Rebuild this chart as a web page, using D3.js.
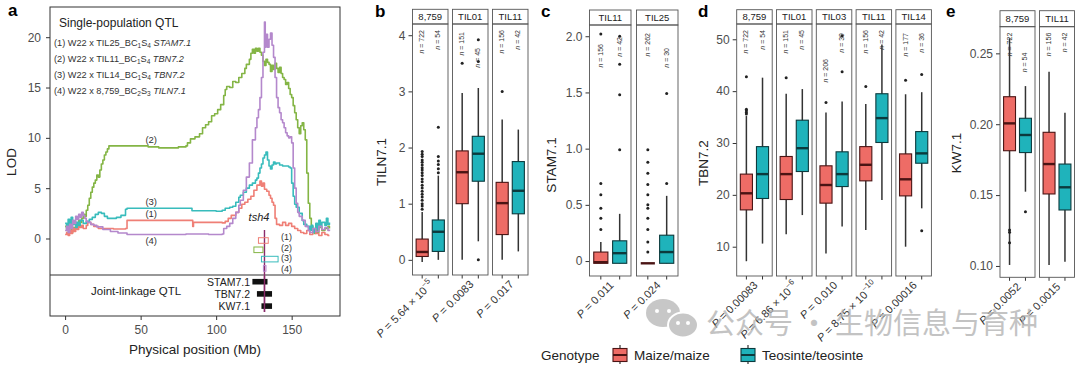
<!DOCTYPE html>
<html>
<head>
<meta charset="utf-8">
<script src="https://cdn.jsdelivr.net/npm/d3@7"></script>
<style>
body { margin: 0; background: #fff; }
svg { display: block; font-family: "Liberation Sans", Arial, sans-serif; }
</style>
</head>
<body>
<svg id="fig" width="1080" height="365"></svg>
<script>
"use strict";

// ---- panel a: LOD profiles (Mb, LOD) ----
let qtl1 = [[0,0.4],[1,0.6],[2,0.3],[3,0.8],[4,0.5],[5,1.0],[6,0.7],[7,1.2],[8,0.9],[9,1.4],[10,1.1],[11,1.3],[12,1.0],[14,1.3],[15,1.6],[17,1.4],[19,1.2],[22,1.0],[27,1.0],[32,0.95],[40,1.0],[41,1.8],[60,1.8],[84,1.8],[84.5,1.2],[85,1.6],[95,1.6],[104,1.55],[106,1.7],[108,2.0],[110,2.3],[113,2.6],[115,3.0],[117,3.4],[119,3.6],[121,3.9],[123,4.2],[125,4.8],[127,5.3],[129,5.7],[130,5.2],[131,5.5],[132,4.9],[133.5,4.7],[135,4.3],[136,4.0],[137,3.6],[138,3.3],[139,2.0],[140,1.4],[142,1.3],[144,1.6],[146,1.3],[148,1.5],[150,1.2],[152,1.0],[154,0.8],[156,0.6],[158,0.5],[160,0.8],[162,0.4],[164,0.7],[166,0.5],[168,0.3],[170,0.6],[172,0.4],[174,0.3],[175,0.3]];
let qtl2 = [[0,1.2],[1,0.8],[2,1.5],[3,1.0],[4,0.6],[5,1.1],[6,0.9],[7,1.4],[8,1.2],[9,1.8],[10,1.6],[11,2.0],[12,2.4],[13,2.2],[14,2.8],[15,3.3],[16,4.0],[17,4.6],[18,5.1],[19,5.5],[20,5.8],[21,6.3],[22,6.1],[23,6.8],[24,7.4],[25,7.8],[26,8.3],[27,8.6],[28,8.9],[29,9.2],[45,9.2],[55,9.1],[62,9.0],[75,9.1],[80,9.2],[81,9.5],[83,9.9],[86,10.1],[89,10.4],[91,11.0],[93,11.3],[95,11.6],[97,12.2],[99,12.4],[101,12.8],[103,13.3],[105,14.2],[106,14.8],[107,15.1],[109,15.0],[111,15.6],[113,15.5],[115,16.0],[117,16.4],[119,16.9],[120,17.3],[122,17.8],[123,18.4],[124,18.8],[125,18.4],[126,18.9],[127,18.6],[128,18.9],[129,18.5],[130,18.2],[131,17.6],[132,17.2],[133,17.8],[134,17.5],[135,17.3],[136,16.6],[137,17.2],[138,16.8],[139,17.4],[140,16.9],[141,16.5],[142,17.0],[143,16.4],[144,16.0],[145,15.8],[146,15.3],[147,15.5],[148,14.9],[149,14.3],[150,14.0],[151,13.2],[152,12.5],[153,11.8],[154,11.0],[155,10.4],[156,11.2],[157,11.5],[158,10.8],[159,9.8],[160,6.5],[161,3.5],[162,2.0],[163,1.2],[164,0.8],[165,0.5],[166,0.9],[167,0.6],[168,1.1],[170,0.8],[172,1.0],[174,1.2],[175,1.0]];
let qtl3 = [[0,1.5],[1,1.0],[2,1.9],[3,1.2],[4,2.1],[5,1.4],[6,1.7],[7,1.1],[8,1.6],[9,1.3],[10,1.8],[12,1.5],[14,1.7],[16,1.9],[18,2.1],[20,2.4],[22,2.6],[24,2.5],[26,2.2],[28,2.0],[32,2.0],[34,2.1],[37,2.3],[40,2.9],[41,3.0],[60,3.0],[83,3.0],[84,2.75],[100,2.7],[104,2.8],[106,3.0],[109,3.1],[111,3.2],[113,3.6],[115,4.1],[116,4.3],[118,4.6],[120,5.0],[122,5.3],[124,5.5],[126,5.8],[127,6.0],[128,6.5],[129,7.0],[130,7.4],[131,8.0],[132,8.3],[133,8.6],[134,7.8],[135,7.2],[136,6.9],[137,7.3],[138,7.6],[139,7.4],[140,7.5],[142,7.3],[144,7.2],[146,7.2],[148,7.1],[149,7.0],[150,5.5],[151,4.2],[152,3.4],[153,3.1],[155,2.5],[157,1.8],[158,1.4],[160,1.2],[162,0.8],[163,1.3],[164,0.6],[165,1.0],[166,1.5],[167,0.9],[168,1.8],[169,1.2],[170,1.6],[172,1.3],[173,2.0],[174,1.4],[175,1.6]];
let qtl4 = [[0,0.8],[1,1.2],[2,0.6],[3,1.4],[4,1.0],[5,1.8],[6,1.5],[7,2.2],[8,1.9],[9,2.4],[10,2.1],[11,2.6],[12,2.3],[13,2.0],[14,1.7],[15,1.6],[17,1.4],[19,1.3],[21,1.15],[25,0.9],[30,0.7],[35,0.55],[41,0.4],[60,0.4],[80,0.45],[95,0.4],[104,0.45],[105,1.0],[107,1.2],[109,1.5],[111,2.0],[113,2.6],[115,3.3],[116,3.8],[118,4.8],[120,6.1],[122,7.5],[124,9.8],[126,11.0],[127,12.0],[128,12.8],[129,14.0],[130,16.0],[131,18.5],[132,21.5],[132.5,19.0],[133,20.3],[134,19.0],[135,19.8],[136,20.4],[137,19.2],[138,18.0],[139,16.0],[140,14.0],[141,13.0],[142,12.5],[143,11.8],[144,11.5],[145,11.0],[146,10.5],[147,10.2],[148,10.0],[149,10.1],[150,9.5],[151,7.0],[152,5.0],[153,3.5],[154,2.6],[155,2.2],[157,1.8],[159,1.2],[161,0.8],[162,0.6],[164,1.0],[166,0.7],[168,1.2],[170,0.9],[172,1.1],[174,0.8],[175,0.9]];
let qtlNames = ["(1)", "(2)", "(3)", "(4)"];
let crossDonor = ["TIL25", "TIL11", "TIL14", "8,759"];
let crossBC = [["1", "4"], ["1", "4"], ["1", "4"], ["2", "3"]];
let crossTrait = ["STAM7.1", "TBN7.2", "TBN7.2", "TILN7.1"];
let ciStart = [128, 125, 130, 131.3];
let ciEnd = [134.5, 131, 141, 133];
let jointTraits = ["STAM7.1", "TBN7.2", "KW7.1"];
let jointStart = [124, 127, 130];
let jointEnd = [134, 137, 137];
let tsh4Pos = 132;
let posTicks = [0, 50, 100, 150];
let lodTicks = [0, 5, 10, 15, 20];

// ---- panels b-e: boxplot stats [lowWhisker, q1, median, q3, highWhisker] ----
let tilnGroups = ["8,759", "TIL01", "TIL11"];
let tilnMaize = [[-0.04, 0.06, 0.14, 0.37, 0.85], [0, 1.0, 1.56, 1.94, 2.97], [0, 0.45, 1.01, 1.38, 2.5]];
let tilnTeo = [[0, 0.15, 0.5, 0.71, 1.5], [0.33, 1.4, 1.89, 2.2, 3.06], [0.15, 0.82, 1.23, 1.75, 2.32]];
let tilnMaizeOut = [[0.9, 0.96, 1.0, 1.06, 1.12, 1.17, 1.22, 1.28, 1.33, 1.39, 1.44, 1.5, 1.55, 1.6, 1.64, 1.69, 1.74, 1.78, 1.84, 1.88, 1.93], [3.5], [3.0]];
let tilnTeoOut = [[1.55, 1.62, 1.7, 1.76, 1.84, 2.36], [0, 3.53, 3.92], []];
let tilnN = [[722, 54], [151, 45], [156, 42]];
let tilnP = ["5.64 × 10^-5", "0.0083", "0.017"];

let stamGroups = ["TIL11", "TIL25"];
let stamMaize = [[-0.02, -0.02, -0.01, 0.08, 0.17], [-0.02, -0.02, -0.02, -0.02, -0.02]];
let stamTeo = [[-0.02, -0.02, 0.07, 0.18, 0.42], [-0.02, -0.02, 0.08, 0.23, 0.58]];
let stamMaizeOut = [[0.28, 0.38, 0.47, 0.59, 0.69, 2.02], [0.08, 0.17, 0.28, 0.38, 0.47, 0.5, 0.59, 0.68, 0.78, 0.88, 0.99]];
let stamTeoOut = [[0.99, 1.48, 1.75, 2.0], [0.69, 1.49]];
let stamN = [[156, 42], [262, 30]];
let stamP = ["0.011", "0.024"];

let tbnGroups = ["8,759", "TIL01", "TIL03", "TIL11", "TIL14"];
let tbnMaize = [[7.2, 17.1, 20.3, 24.0, 35.2], [12.4, 19.1, 24.0, 27.4, 39.5], [8.7, 18.4, 21.9, 25.6, 35.9], [13.2, 22.7, 25.8, 29.3, 37.5], [10.0, 19.8, 23.0, 27.9, 39.4]];
let tbnTeo = [[10.6, 19.3, 24.0, 29.3, 42.6], [16.1, 24.5, 29.0, 34.4, 40.4], [13.9, 21.6, 24.0, 28.3, 38.0], [19.0, 30.1, 34.8, 39.5, 49.0], [17.4, 26.1, 28.0, 32.2, 39.8]];
let tbnMaizeOut = [[35.6, 35.9, 36.2, 36.5, 42.8], [42.6], [37.8], [40.9], [42.1]];
let tbnTeoOut = [[], [], [43.75, 50.7], [], [43.2, 13.1]];
let tbnN = [[722, 54], [151, 45], [206, 39], [156, 42], [177, 36]];
let tbnP = ["0.00083", "6.86 × 10^-6", "0.010", "8.75 × 10^-10", "0.00016"];

let kwGroups = ["8,759", "TIL11"];
let kwMaize = [[0.1007, 0.1813, 0.2006, 0.2194, 0.2606], [0.1007, 0.1508, 0.1719, 0.1943, 0.237]];
let kwTeo = [[0.1524, 0.180, 0.1924, 0.2042, 0.2269], [0.103, 0.1395, 0.1555, 0.1719, 0.2081]];
let kwMaizeOut = [[0.1254, 0.1237, 0.1164], []];
let kwTeoOut = [[0.1383], []];
let kwN = [[722, 54], [156, 42]];
let kwP = ["0.0052", "0.0015"];

let genotypes = ["Maize/maize", "Teosinte/teosinte"];

// ---- styles ----
let lineColors = ["#ef7f76", "#84b545", "#38bcbc", "#b488cc"];
let boxFill = ["#ee6c66", "#1fb3bb"];
let boxEdge = ["#4a1414", "#0c3a3d"];
let tickGrey = "#4d4d4d";

let svg = d3.select("#fig");

// =============== panel a ===============
let ax = d3.scaleLinear().domain([-10, 182]).range([50, 340]);
let ay = d3.scaleLinear().domain([-7.7, 23]).range([316, 7]);

let pa = svg.append("g");
pa.append("text").attr("x", 8).attr("y", 16).attr("font-size", 17).attr("font-weight", "bold").text("a");

let lodLine = d3.line()
	.x(function(d) { return ax(d[0]); })
	.y(function(d) { return ay(d[1]); })
	.curve(d3.curveStepAfter);

let curves = [qtl2, qtl1, qtl3, qtl4];
let curveIdx = [1, 0, 2, 3];
curves.forEach(function(c, k)
{
	pa.append("path")
		.attr("d", lodLine(c))
		.attr("fill", "none")
		.attr("stroke", lineColors[curveIdx[k]])
		.attr("stroke-width", 1.6)
		.attr("stroke-linejoin", "round");
});

// frame and separator
pa.append("rect").attr("x", 50).attr("y", 7).attr("width", 290).attr("height", 309)
	.attr("fill", "none").attr("stroke", "#333").attr("stroke-width", 1);
pa.append("line").attr("x1", 50).attr("x2", 340).attr("y1", 275).attr("y2", 275)
	.attr("stroke", "#333").attr("stroke-width", 1.2);

// axes
let aY = pa.append("g").attr("transform", "translate(50,0)")
	.call(d3.axisLeft(ay).tickValues(lodTicks).tickSize(4).tickPadding(5));
let aX = pa.append("g").attr("transform", "translate(0,316)")
	.call(d3.axisBottom(ax).tickValues(posTicks).tickSize(4).tickPadding(5));
[aY, aX].forEach(function(g)
{
	g.select(".domain").remove();
	g.selectAll("line").attr("stroke", "#333");
	g.selectAll("text").attr("font-size", 12).attr("fill", tickGrey).attr("font-family", null);
});
pa.append("text").attr("transform", "translate(16,162) rotate(-90)").attr("text-anchor", "middle")
	.attr("font-size", 13.5).attr("fill", "#222").text("LOD");
pa.append("text").attr("x", 195).attr("y", 354).attr("text-anchor", "middle")
	.attr("font-size", 13.5).attr("fill", "#222").text("Physical position (Mb)");

// legend text inside panel a
pa.append("text").attr("x", 59).attr("y", 27).attr("font-size", 12).attr("fill", "#222").text("Single-population QTL");
crossDonor.forEach(function(d, i)
{
	let t = pa.append("text").attr("x", 54).attr("y", 46 + i * 16).attr("font-size", 9.2).attr("fill", "#333");
	t.append("tspan").text(qtlNames[i] + " W22 x " + d + "_BC");
	t.append("tspan").attr("font-size", 6.5).attr("dy", 2).text(crossBC[i][0]);
	t.append("tspan").attr("dy", -2).text("S");
	t.append("tspan").attr("font-size", 6.5).attr("dy", 2).text(crossBC[i][1]);
	t.append("tspan").attr("dy", -2).attr("font-style", "italic").text(" " + crossTrait[i]);
});

// curve labels
let curveLabelLod = [1.8, 9.2, 3.0, 0.4];
let curveLabelDy = [-1, -1, -1, 12];
qtlNames.forEach(function(n, i)
{
	pa.append("text").attr("x", ax(57)).attr("y", ay(curveLabelLod[i]) + curveLabelDy[i] - 2)
		.attr("text-anchor", "middle").attr("font-size", 9.5).attr("fill", "#333").text(n);
});

// tsh4
pa.append("line").attr("x1", ax(tsh4Pos)).attr("x2", ax(tsh4Pos)).attr("y1", 230).attr("y2", 312)
	.attr("stroke", "#8b2a6b").attr("stroke-width", 1.4);
pa.append("text").attr("x", 259).attr("y", 221).attr("text-anchor", "middle").attr("font-size", 11)
	.attr("font-style", "italic").attr("fill", "#222").text("tsh4");

// single-population confidence intervals
ciStart.forEach(function(s, i)
{
	pa.append("rect").attr("x", ax(s)).attr("y", 237.7 + i * 9.3)
		.attr("width", ax(ciEnd[i]) - ax(s)).attr("height", 5.6)
		.attr("fill", "none").attr("stroke", lineColors[i]).attr("stroke-width", 1);
	pa.append("text").attr("x", 281).attr("y", 240 + i * 10.7).attr("font-size", 9).attr("fill", "#333").text(qtlNames[i]);
});

// joint-linkage QTL
pa.append("text").attr("x", 91).attr("y", 295).attr("font-size", 11.5).attr("fill", "#222").text("Joint-linkage QTL");
jointTraits.forEach(function(t, i)
{
	let yc = 281.7 + i * 12.2;
	pa.append("rect").attr("x", ax(jointStart[i])).attr("y", yc - 2.8)
		.attr("width", ax(jointEnd[i]) - ax(jointStart[i])).attr("height", 5.6).attr("fill", "#111");
	pa.append("text").attr("x", 250).attr("y", yc + 4).attr("text-anchor", "end")
		.attr("font-size", 10.5).attr("fill", "#222").text(t);
});
pa.append("line").attr("x1", ax(tsh4Pos)).attr("x2", ax(tsh4Pos)).attr("y1", 276).attr("y2", 312)
	.attr("stroke", "#8b2a6b").attr("stroke-width", 1.4);

// =============== boxplot panels ===============
function addP(textSel, s)
{
	let parts = s.split("^");
	textSel.append("tspan").attr("font-style", "italic").text("P");
	textSel.append("tspan").text(" = " + parts[0]);
	if (parts[1])
	{
		textSel.append("tspan").attr("dy", -5).attr("font-size", 8).text(parts[1].replace("-", "−"));
	}
}

function drawBoxPanel(p)
{
	let g = svg.append("g");
	let y = d3.scaleLinear().domain(p.domain).range([p.bottom, p.stripBot]);

	g.append("text").attr("x", p.letterX).attr("y", 17).attr("font-size", 17).attr("font-weight", "bold").text(p.letter);

	let yAx = g.append("g").attr("transform", "translate(" + p.left + ",0)")
		.call(d3.axisLeft(y).tickValues(p.ticks).tickFormat(p.fmt).tickSize(4).tickPadding(3));
	yAx.select(".domain").remove();
	yAx.selectAll("line").attr("stroke", "#333");
	yAx.selectAll("text").attr("font-size", 12).attr("fill", tickGrey).attr("font-family", null);

	g.append("text").attr("transform", "translate(" + p.titleX + "," + p.titleY + ") rotate(-90)")
		.attr("text-anchor", "middle").attr("font-size", 13.5).attr("fill", "#222").text(p.title);

	p.groups.forEach(function(name, i)
	{
		let fx = p.left + i * (p.fw + p.gap);
		let x = d3.scaleLinear().domain([0.4, 2.6]).range([fx, fx + p.fw]);
		let half = x(1.375) - x(1);

		g.append("rect").attr("x", fx).attr("y", p.stripTop).attr("width", p.fw).attr("height", p.stripBot - p.stripTop)
			.attr("fill", "#fff").attr("stroke", "#555").attr("stroke-width", 0.9);
		g.append("text").attr("x", fx + p.fw / 2).attr("y", (p.stripTop + p.stripBot) / 2 + 3.3)
			.attr("text-anchor", "middle").attr("font-size", 9.5).attr("fill", "#222").text(name);

		let stats = [p.maize[i], p.teo[i]];
		let outs = [p.maizeOut[i], p.teoOut[i]];
		stats.forEach(function(s, k)
		{
			let cx = x(k + 1);
			g.append("line").attr("x1", cx).attr("x2", cx).attr("y1", y(s[0])).attr("y2", y(s[4]))
				.attr("stroke", "#333").attr("stroke-width", 1.5);
			g.append("rect").attr("x", cx - half).attr("y", y(s[3]))
				.attr("width", 2 * half).attr("height", Math.max(0, y(s[1]) - y(s[3])))
				.attr("fill", boxFill[k]).attr("stroke", boxEdge[k]).attr("stroke-width", 1.1);
			g.append("line").attr("x1", cx - half).attr("x2", cx + half).attr("y1", y(s[2])).attr("y2", y(s[2]))
				.attr("stroke", boxEdge[k]).attr("stroke-width", 2.4);
			g.selectAll(null).data(outs[k]).enter().append("circle")
				.attr("cx", cx).attr("cy", function(d) { return y(d); }).attr("r", 1.5).attr("fill", "#222");

			// n label
			let shift = (p.nShift && p.nShift[i]) ? p.nShift[i][k] : 0;
			let t = g.append("text")
				.attr("transform", "translate(" + cx + "," + (p.stripBot + 6 + shift) + ") rotate(-90)")
				.attr("text-anchor", "end").attr("dominant-baseline", "middle")
				.attr("font-size", 7).attr("fill", "#333");
			t.append("tspan").attr("font-style", "italic").text("n");
			t.append("tspan").text(" = " + p.n[i][k]);

			g.append("line").attr("x1", cx).attr("x2", cx).attr("y1", p.bottom).attr("y2", p.bottom + 3.5)
				.attr("stroke", "#333");
		});

		g.append("rect").attr("x", fx).attr("y", p.stripBot).attr("width", p.fw).attr("height", p.bottom - p.stripBot)
			.attr("fill", "none").attr("stroke", "#555").attr("stroke-width", 0.9);

		let pt = g.append("text")
			.attr("transform", "translate(" + (x(1.5) + 4) + "," + (p.bottom + 10) + ") rotate(-45)")
			.attr("text-anchor", "end").attr("font-size", 11).attr("fill", "#333");
		addP(pt, p.p[i]);
	});
}

drawBoxPanel({
	letter: "b", letterX: 375, left: 412.5, fw: 35.5, gap: 4.5, stripTop: 9.3, stripBot: 24, bottom: 275,
	domain: [-0.27, 4.2], ticks: [0, 1, 2, 3, 4], fmt: d3.format("d"),
	title: "TILN7.1", titleX: 386, titleY: 162,
	groups: tilnGroups, maize: tilnMaize, teo: tilnTeo, maizeOut: tilnMaizeOut, teoOut: tilnTeoOut,
	n: tilnN, p: tilnP, nShift: [[0, 0], [2, 18], [0, 0]]
});

drawBoxPanel({
	letter: "c", letterX: 541, left: 589.5, fw: 41.5, gap: 5.5, stripTop: 10, stripBot: 25, bottom: 276,
	domain: [-0.133, 2.1], ticks: [0, 0.5, 1, 1.5, 2], fmt: function(d) { return d === 0 ? "0" : d3.format(".1f")(d); },
	title: "STAM7.1", titleX: 556, titleY: 165,
	groups: stamGroups, maize: stamMaize, teo: stamTeo, maizeOut: stamMaizeOut, teoOut: stamTeoOut,
	n: stamN, p: stamP, nShift: [[13, 6], [2, 17]]
});

drawBoxPanel({
	letter: "d", letterX: 698, left: 736.7, fw: 35.5, gap: 4.3, stripTop: 9.7, stripBot: 24, bottom: 276,
	domain: [4.35, 52.95], ticks: [10, 20, 30, 40, 50], fmt: d3.format("d"),
	title: "TBN7.2", titleX: 708, titleY: 163,
	groups: tbnGroups, maize: tbnMaize, teo: tbnTeo, maizeOut: tbnMaizeOut, teoOut: tbnTeoOut,
	n: tbnN, p: tbnP, nShift: [[0, 0], [0, 0], [29, 3], [0, 0], [3, 3]]
});

drawBoxPanel({
	letter: "e", letterX: 946, left: 1000, fw: 35, gap: 4.5, stripTop: 10.7, stripBot: 26.7, bottom: 277.3,
	domain: [0.092, 0.2688], ticks: [0.10, 0.15, 0.20, 0.25], fmt: d3.format(".2f"),
	title: "KW7.1", titleX: 961, titleY: 153,
	groups: kwGroups, maize: kwMaize, teo: kwTeo, maizeOut: kwMaizeOut, teoOut: kwTeoOut,
	n: kwN, p: kwP, nShift: [[0, 20], [0, 0]]
});

// =============== legend ===============
let lg = svg.append("g");
lg.append("text").attr("x", 541).attr("y", 360).attr("font-size", 13.5).attr("fill", "#222").text("Genotype");
let keyX = [613, 741];
genotypes.forEach(function(gname, k)
{
	let kx = keyX[k];
	lg.append("line").attr("x1", kx + 7).attr("x2", kx + 7).attr("y1", 345).attr("y2", 364).attr("stroke", "#333").attr("stroke-width", 1.2);
	lg.append("rect").attr("x", kx).attr("y", 348.5).attr("width", 14).attr("height", 13)
		.attr("fill", boxFill[k]).attr("stroke", boxEdge[k]).attr("stroke-width", 1.1);
	lg.append("line").attr("x1", kx).attr("x2", kx + 14).attr("y1", 355).attr("y2", 355).attr("stroke", boxEdge[k]).attr("stroke-width", 2);
	lg.append("text").attr("x", kx + 21).attr("y", 360).attr("font-size", 13.5).attr("fill", "#222").text(gname);
});

// =============== watermark ===============
let wm = svg.append("g").attr("opacity", 0.75);
wm.append("ellipse").attr("cx", 663).attr("cy", 313).attr("rx", 17).attr("ry", 14).attr("fill", "#b5b5b5");
wm.append("ellipse").attr("cx", 683).attr("cy", 325).attr("rx", 15).attr("ry", 12.5).attr("fill", "#b5b5b5").attr("stroke", "#fff").attr("stroke-width", 2);
[[657, 311], [669, 311], [678, 323], [688, 323]].forEach(function(e)
{
	wm.append("circle").attr("cx", e[0]).attr("cy", e[1]).attr("r", 2).attr("fill", "#fff");
});
wm.append("text").attr("x", 706).attr("y", 334).attr("font-size", 29)
	.attr("font-family", "'Noto Sans CJK SC', sans-serif").attr("fill", "#b0b0b0").text("公众号 · 生物信息与育种");
</script>
</body>
</html>
